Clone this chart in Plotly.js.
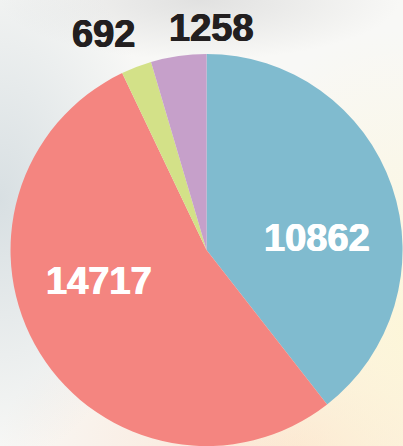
<!DOCTYPE html>
<html><head><meta charset="utf-8">
<script src="https://cdn.plot.ly/plotly-3.0.1.min.js"></script>
<style>
html,body{margin:0;padding:0;width:403px;height:446px;overflow:hidden;}
body{background:
 radial-gradient(ellipse 160px 260px at 0px 200px, rgba(205,215,220,0.75), rgba(205,215,220,0) 100%),
 radial-gradient(ellipse 200px 60px at 200px 0px, rgba(215,215,215,0.7), rgba(215,215,215,0) 100%),
 radial-gradient(ellipse 220px 300px at 403px 330px, rgba(253,246,215,0.9), rgba(253,246,215,0) 100%),
 radial-gradient(ellipse 300px 160px at 300px 446px, rgba(252,225,205,0.9), rgba(252,225,205,0) 100%),
 #f8f8f6;}
#chart{width:403px;height:446px;}
</style></head>
<body><div id="chart"></div>
<script>
var labels = ["A", "B", "C", "D"];
var values = [10862, 14717, 692, 1258];
var colors = ["#80bbcf", "#f48580", "#d3e188", "#c6a0ca"];
var textColors = ["#ffffff", "#ffffff", "#231f20", "#231f20"];
// label anchor positions (paper fraction) for each value label
var labelX = [0.786, 0.246, 0.256, 0.524];
var labelY = [0.466, 0.370, 0.923, 0.937];

var annotations = values.map(function (v, i) {
  return {
    xref: "paper", yref: "paper", x: labelX[i], y: labelY[i],
    xanchor: "center", yanchor: "middle", showarrow: false,
    text: String(v),
    font: {family: "Liberation Sans", size: 38, color: textColors[i], weight: "bold",
           shadow: "0.6px 0 0 " + textColors[i] + ", -0.6px 0 0 " + textColors[i]}
  };
});

Plotly.newPlot("chart", [{
  type: "pie",
  labels: labels,
  values: values,
  sort: false,
  direction: "clockwise",
  rotation: 0,
  marker: {colors: colors, line: {width: 0}},
  textinfo: "none",
  domain: {x: [0.025, 1], y: [0, 0.879]},
  hoverinfo: "none"
}], {
  width: 403, height: 446,
  margin: {l: 0, r: 0, t: 0, b: 0},
  paper_bgcolor: "rgba(0,0,0,0)",
  showlegend: false,
  annotations: annotations
}, {displayModeBar: false, staticPlot: true});
</script></body></html>
